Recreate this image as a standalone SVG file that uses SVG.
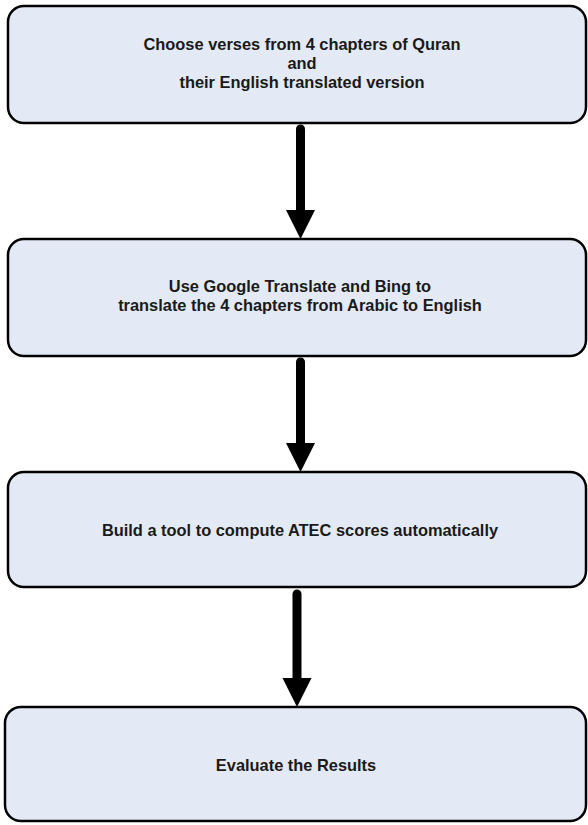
<svg xmlns="http://www.w3.org/2000/svg" width="588" height="825" viewBox="0 0 588 825">
<style>
.box{fill:#e4eaf5;stroke:#000;stroke-width:2.5}
.t{font-family:"Liberation Sans",Arial,sans-serif;font-weight:bold;font-size:16.4px;fill:#1a1a1a;text-anchor:middle}
.c{stroke:#000;stroke-width:9;stroke-linecap:round;fill:none}
.h{fill:#000}
</style>
<rect width="588" height="825" fill="#fff"/>
<g id="connectors">
<path class="c" d="M300.5,129 V212" />
<path class="h" d="M286,210 L315,210 L300.5,239 Z"/>
<path class="c" d="M300.5,362 V444" />
<path class="h" d="M286,443 L315,443 L300.5,472 Z"/>
<path class="c" d="M297,594 V680" />
<path class="h" d="M282.5,678 L311.5,678 L297,707 Z"/>
</g>
<g id="n1">
<rect class="box" x="8" y="6" width="578" height="117" rx="16"/>
<text class="t" x="302" y="50">Choose verses from 4 chapters of Quran</text>
<text class="t" x="302" y="69">and</text>
<text class="t" x="302" y="88">their English translated version</text>
</g>
<g id="n2">
<rect class="box" x="8" y="239" width="578" height="117" rx="16"/>
<text class="t" x="300" y="292">Use Google Translate and Bing to</text>
<text class="t" x="300" y="311">translate the 4 chapters from Arabic to English</text>
</g>
<g id="n3">
<rect class="box" x="8" y="472" width="578" height="115" rx="16"/>
<text class="t" x="300" y="536">Build a tool to compute ATEC scores automatically</text>
</g>
<g id="n4">
<rect class="box" x="5" y="707" width="581" height="114" rx="16"/>
<text class="t" x="296" y="771">Evaluate the Results</text>
</g>
</svg>
